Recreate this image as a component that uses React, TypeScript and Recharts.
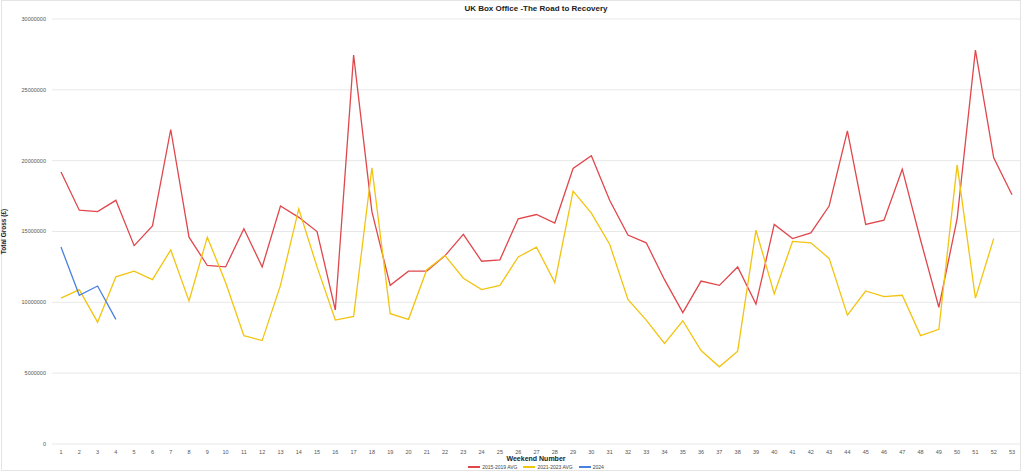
import React from 'react';
import { LineChart, Line, XAxis, YAxis, CartesianGrid } from 'recharts';

const weeks: number[] = Array.from({ length: 53 }, (_, i) => i + 1);

const avg2015_2019: number[] = [
  19.2, 16.5, 16.4, 17.2, 14.0, 15.4, 22.2, 14.6, 12.6, 12.5,
  15.2, 12.5, 16.8, 16.0, 15.0, 9.46, 27.45, 16.4, 11.2, 12.2,
  12.2, 13.3, 14.8, 12.9, 13.0, 15.9, 16.2, 15.6, 19.45, 20.35,
  17.2, 14.75, 14.2, 11.6, 9.27, 11.5, 11.2, 12.5, 9.88, 15.5,
  14.5, 14.9, 16.8, 22.1, 15.5, 15.8, 19.4, 14.4, 9.65, 15.9,
  27.8, 20.2, 17.6,
];

const avg2021_2023: (number | null)[] = [
  10.3, 10.9, 8.6, 11.8, 12.2, 11.6, 13.7, 10.1, 14.6, 11.4,
  7.65, 7.3, 11.2, 16.6, 12.5, 8.75, 9.0, 19.5, 9.2, 8.8,
  12.3, 13.3, 11.7, 10.9, 11.2, 13.2, 13.9, 11.4, 17.85, 16.3,
  14.1, 10.2, 8.75, 7.1, 8.7, 6.6, 5.45, 6.55, 15.1, 10.6,
  14.3, 14.2, 13.1, 9.1, 10.8, 10.4, 10.5, 7.65, 8.1, 19.7,
  10.3, 14.5, null,
];

const y2024: number[] = [13.9, 10.5, 11.15, 8.8];

const yTicks: number[] = [0, 5000000, 10000000, 15000000, 20000000, 25000000, 30000000];

const seriesNames = ['2015-2019 AVG', '2021-2023 AVG', '2024'];
const seriesColors = ['#e0474c', '#f2c40f', '#4a80e2'];

const data = weeks.map((w, i) => ({
  week: w,
  a: avg2015_2019[i] != null ? avg2015_2019[i] * 1e6 : null,
  b: avg2021_2023[i] != null ? (avg2021_2023[i] as number) * 1e6 : null,
  c: i < y2024.length ? y2024[i] * 1e6 : null,
}));

const FONT = '"Liberation Sans", Arial, sans-serif';

export default function App() {
  return (
    <div style={{ position: 'absolute', left: 0, top: 0, width: 1024, height: 474, background: '#fff', fontFamily: FONT }}>
      <div style={{ position: 'absolute', left: 1, top: 0, width: 1020, height: 471, border: '1px solid #e4e4e4', boxSizing: 'border-box' }} />
      <div style={{ position: 'absolute', top: 4, left: 52, width: 968, textAlign: 'center', fontSize: 8, fontWeight: 'bold', color: '#222' }}>
        UK Box Office -The Road to Recovery
      </div>
      <LineChart width={1024} height={474} data={data} margin={{ top: 19, right: 4, bottom: 18, left: 0 }} style={{ position: 'absolute', left: 0, top: 0 }}>
        <CartesianGrid vertical={false} stroke="#e8e8e8" />
        <XAxis
          dataKey="week"
          type="category"
          padding={{ left: 9, right: 8 }}
          axisLine={false}
          tickLine={false}
          interval={0}
          height={12}
          tick={{ fontSize: 5.5, fill: '#555', fontFamily: FONT }}
          tickMargin={0}
        />
        <YAxis
          width={52}
          domain={[0, 30000000]}
          ticks={yTicks}
          axisLine={false}
          tickLine={false}
          tickMargin={0}
          tick={{ fontSize: 5.5, fill: '#555', fontFamily: FONT }}
          label={{ value: 'Total Gross (£)', angle: -90, position: 'insideLeft', offset: 4, style: { fontSize: 6.5, fontWeight: 'bold', fill: '#222', fontFamily: FONT, textAnchor: 'middle' } }}
        />
        <Line dataKey="a" name={seriesNames[0]} stroke={seriesColors[0]} strokeWidth={1.3} dot={false} isAnimationActive={false} />
        <Line dataKey="b" name={seriesNames[1]} stroke={seriesColors[1]} strokeWidth={1.3} dot={false} isAnimationActive={false} />
        <Line dataKey="c" name={seriesNames[2]} stroke={seriesColors[2]} strokeWidth={1.3} dot={false} isAnimationActive={false} />
      </LineChart>
      <div style={{ position: 'absolute', top: 455, left: 52, width: 968, textAlign: 'center', fontSize: 7, lineHeight: '8px', fontWeight: 'bold', color: '#222' }}>
        Weekend Number
      </div>
      <div style={{ position: 'absolute', top: 464, left: 52, width: 968, height: 6, display: 'flex', justifyContent: 'center', alignItems: 'center', fontSize: 5, lineHeight: '6px', color: '#444', gap: 6 }}>
        {seriesNames.map((n, i) => (
          <div key={n} style={{ display: 'flex', alignItems: 'center', gap: 2 }}>
            <div style={{ width: 12, height: 1.5, background: seriesColors[i] }} />
            <span>{n}</span>
          </div>
        ))}
      </div>
    </div>
  );
}
